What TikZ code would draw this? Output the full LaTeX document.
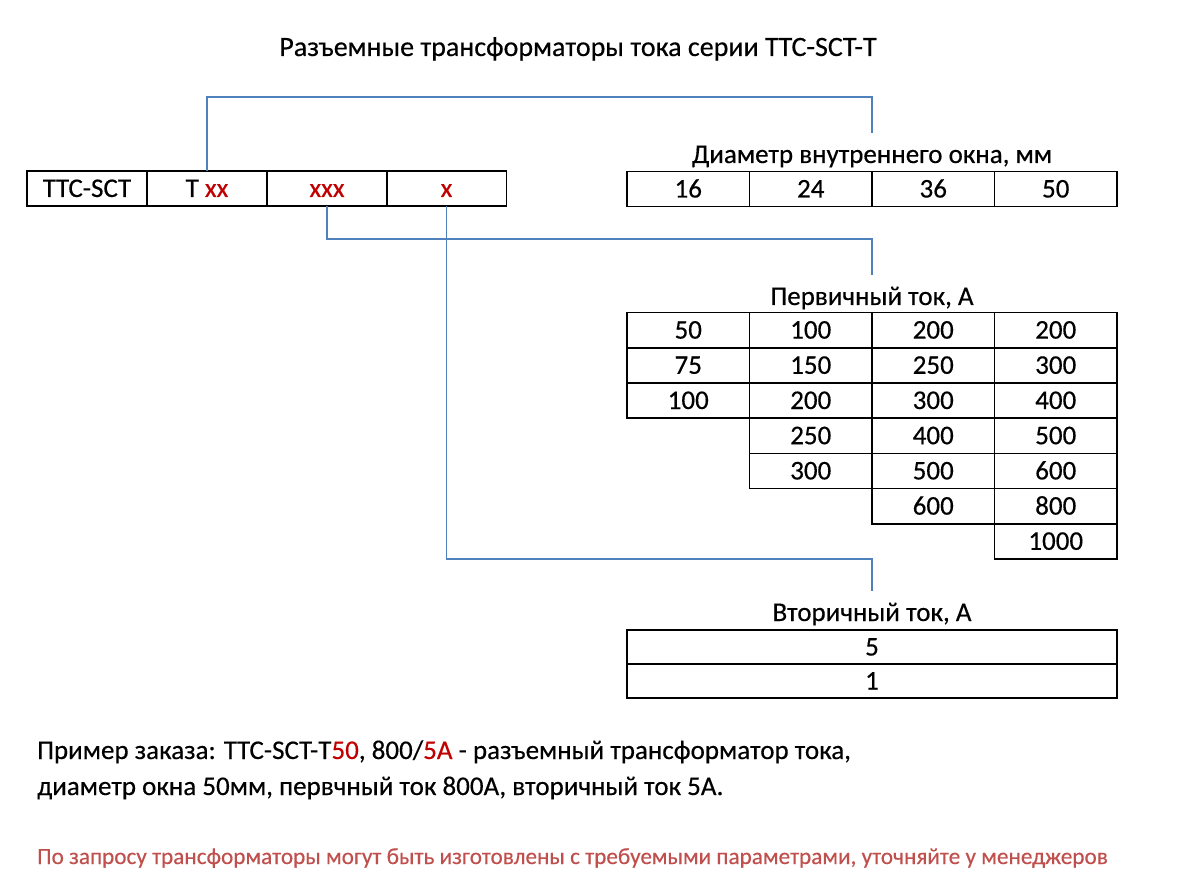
\documentclass[tikz,border=0pt]{standalone}
\usepackage{fontspec}
\setmainfont[FakeBold=0.4]{Carlito}
\definecolor{linkblue}{RGB}{79,129,189}
\definecolor{codered}{RGB}{192,0,0}
\definecolor{notered}{RGB}{192,80,77}
\tikzset{
	cell/.style={draw, line width=1.6pt, minimum width=120pt, minimum height=35pt, inner sep=0pt, outer sep=0pt, text height=17pt, text depth=0pt},
	dcell/.style={cell, minimum width=122.5pt, minimum height=35.2pt},
	head/.style={anchor=base, inner sep=0pt, text height=18pt, outer ysep=12pt},
	link/.style={linkblue, line width=1.5pt},
	txt/.style={anchor=base west, inner sep=0pt}
}

\begin{document}
\begin{tikzpicture}[x=1pt, y=-1pt, font=\fontsize{27}{32}\selectfont]
		\useasboundingbox (0,0) rectangle (1200,896);
		\node[anchor=base, font=\fontsize{28}{33}\selectfont] (title) at (578,56) {Разъемные трансформаторы тока серии ТТС-SCT-T};
	
		\node[cell] (c1) at (87,188.5) {ТТС-SCT};
		\node[cell] (c2) at (207,188.5) {T \textcolor{codered}{xx}};
		\node[cell] (c3) at (327,188.5) {\textcolor{codered}{xxx}};
		\node[cell] (c4) at (446.5,188.5) {\textcolor{codered}{x}};
	
		\node[head] (dhead) at (872,163) {Диаметр внутреннего окна, мм};
		\foreach \v [count=\i] in {16, 24, 36, 50} {
			\node[dcell] (d\i) at ({627+122.5*(\i-0.5)}, 189) {\v};
		}
	
		\node[head] (phead) at (872,305) {Первичный ток, А};
		\foreach \col/\vals in {1/{50, 75, 100}, 2/{100, 150, 200, 250, 300}, 3/{200, 250, 300, 400, 500, 600}, 4/{200, 300, 400, 500, 600, 800, 1000}} {
			\foreach \v [count=\r] in \vals {
				\node[dcell] (p\col-\r) at ({627+122.5*(\col-0.5)}, {312.5+35.2*(\r-0.5)}) {\v};
			}
		}
	
		\node[head] (shead) at (872,621) {Вторичный ток, А};
		\foreach \v [count=\i] in {5, 1} {
			\node[dcell, minimum width=490pt, minimum height=34pt] (s\i) at (872, {630+34*(\i-0.5)}) {\v};
		}
	
		\coordinate (k1) at (0,97);
		\coordinate (k2) at (0,239);
		\coordinate (k3) at (0,559);
		\draw[link] (c2.north) |- (k1 -| dhead.north) -- (dhead.north);
		\draw[link] (c3.south) |- (k2 -| phead.north) -- (phead.north);
		\draw[link] (c4.south) |- (k3 -| shead.north) -- (shead.north);
	
		\node[txt] (ex1) at (37,759) {Пример заказа: ТТС-SCT-T\textcolor{codered}{50}, 800/\textcolor{codered}{5A} - разъемный трансформатор тока,};
		\node[txt] (ex2) at (37,795) {диаметр окна 50мм, первчный ток 800А, вторичный ток 5А.};
		\node[txt, notered, font=\fontsize{23.2}{27}\selectfont] (note) at (37,864) {По запросу трансформаторы могут быть изготовлены с требуемыми параметрами, уточняйте у менеджеров};
	\end{tikzpicture}
\end{document}
